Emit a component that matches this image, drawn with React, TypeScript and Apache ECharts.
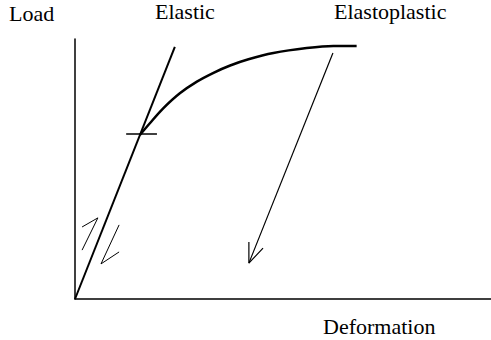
import React, { useEffect, useRef } from "react";
import * as echarts from "echarts";

// Data in axis units (x: deformation 0..100, y: load 0..100)
const elasticLine: number[][] = [[0, 0], [24, 97]];
const elastoplasticCurve: number[][] = [
  [15.6, 63.1], [18.0, 67.6], [21.2, 73.3], [25.2, 79.1], [29.3, 83.6],
  [33.3, 87.0], [37.3, 89.8], [41.7, 92.2], [47.7, 94.6], [55.7, 96.5],
  [62.1, 97.3], [67.7, 97.3],
];
const yieldMark: number[][] = [[12.3, 63.5], [19.7, 63.5]];
const unloadShaft: number[][] = [[62.0, 94.6], [41.8, 13.8]];
const unloadHead: number[][] = [[41.8, 21.9], [41.8, 13.8], [45.2, 19.6]];
const loadUpArrow: number[][] = [[1.7, 18.8], [5.5, 31.2], [1.7, 27.7]];
const unloadDownArrow: number[][] = [[10.6, 28.5], [6.25, 13.5], [10.6, 18.1]];

const labels = ["Load", "Elastic", "Elastoplastic", "Deformation"];
const labelPos: number[][] = [[9, 13], [155, 11], [334, 11], [323, 326]];

export default function App() {
  const ref = useRef<HTMLDivElement>(null);
  useEffect(() => {
    if (!ref.current) return;
    const chart = echarts.init(ref.current, null, { renderer: "svg" });
    const lineSeries = (data: number[][], width: number) => ({
      type: "line",
      data,
      showSymbol: false,
      symbol: "none",
      lineStyle: { color: "#000", width },
      silent: true,
    });
    chart.setOption({
      animation: false,
      backgroundColor: "#fff",
      grid: { left: 75, right: 0, top: 39, bottom: 41 },
      xAxis: {
        type: "value", min: 0, max: 100,
        axisLine: { show: true, lineStyle: { color: "#000", width: 1.5 } },
        axisTick: { show: false }, axisLabel: { show: false }, splitLine: { show: false },
      },
      yAxis: {
        type: "value", min: 0, max: 100,
        axisLine: { show: true, lineStyle: { color: "#000", width: 1.5 } },
        axisTick: { show: false }, axisLabel: { show: false }, splitLine: { show: false },
      },
      series: [
        lineSeries(elasticLine, 2),
        { ...lineSeries(elastoplasticCurve, 2.5), smooth: 0.3 },
        lineSeries(yieldMark, 1.5),
        lineSeries(unloadShaft, 1.2),
        lineSeries(unloadHead, 1.2),
        lineSeries(loadUpArrow, 1),
        lineSeries(unloadDownArrow, 1),
      ],
      graphic: labels.map((t, i) => ({
        type: "text",
        x: labelPos[i][0],
        y: labelPos[i][1],
        style: {
          text: t,
          fill: "#000",
          font: '22px "Liberation Serif"',
          verticalAlign: "middle",
          align: "left",
        },
      })),
    });
    return () => chart.dispose();
  }, []);
  return (
    <div
      ref={ref}
      style={{ position: "fixed", left: 0, top: 0, width: 491, height: 340 }}
    />
  );
}
